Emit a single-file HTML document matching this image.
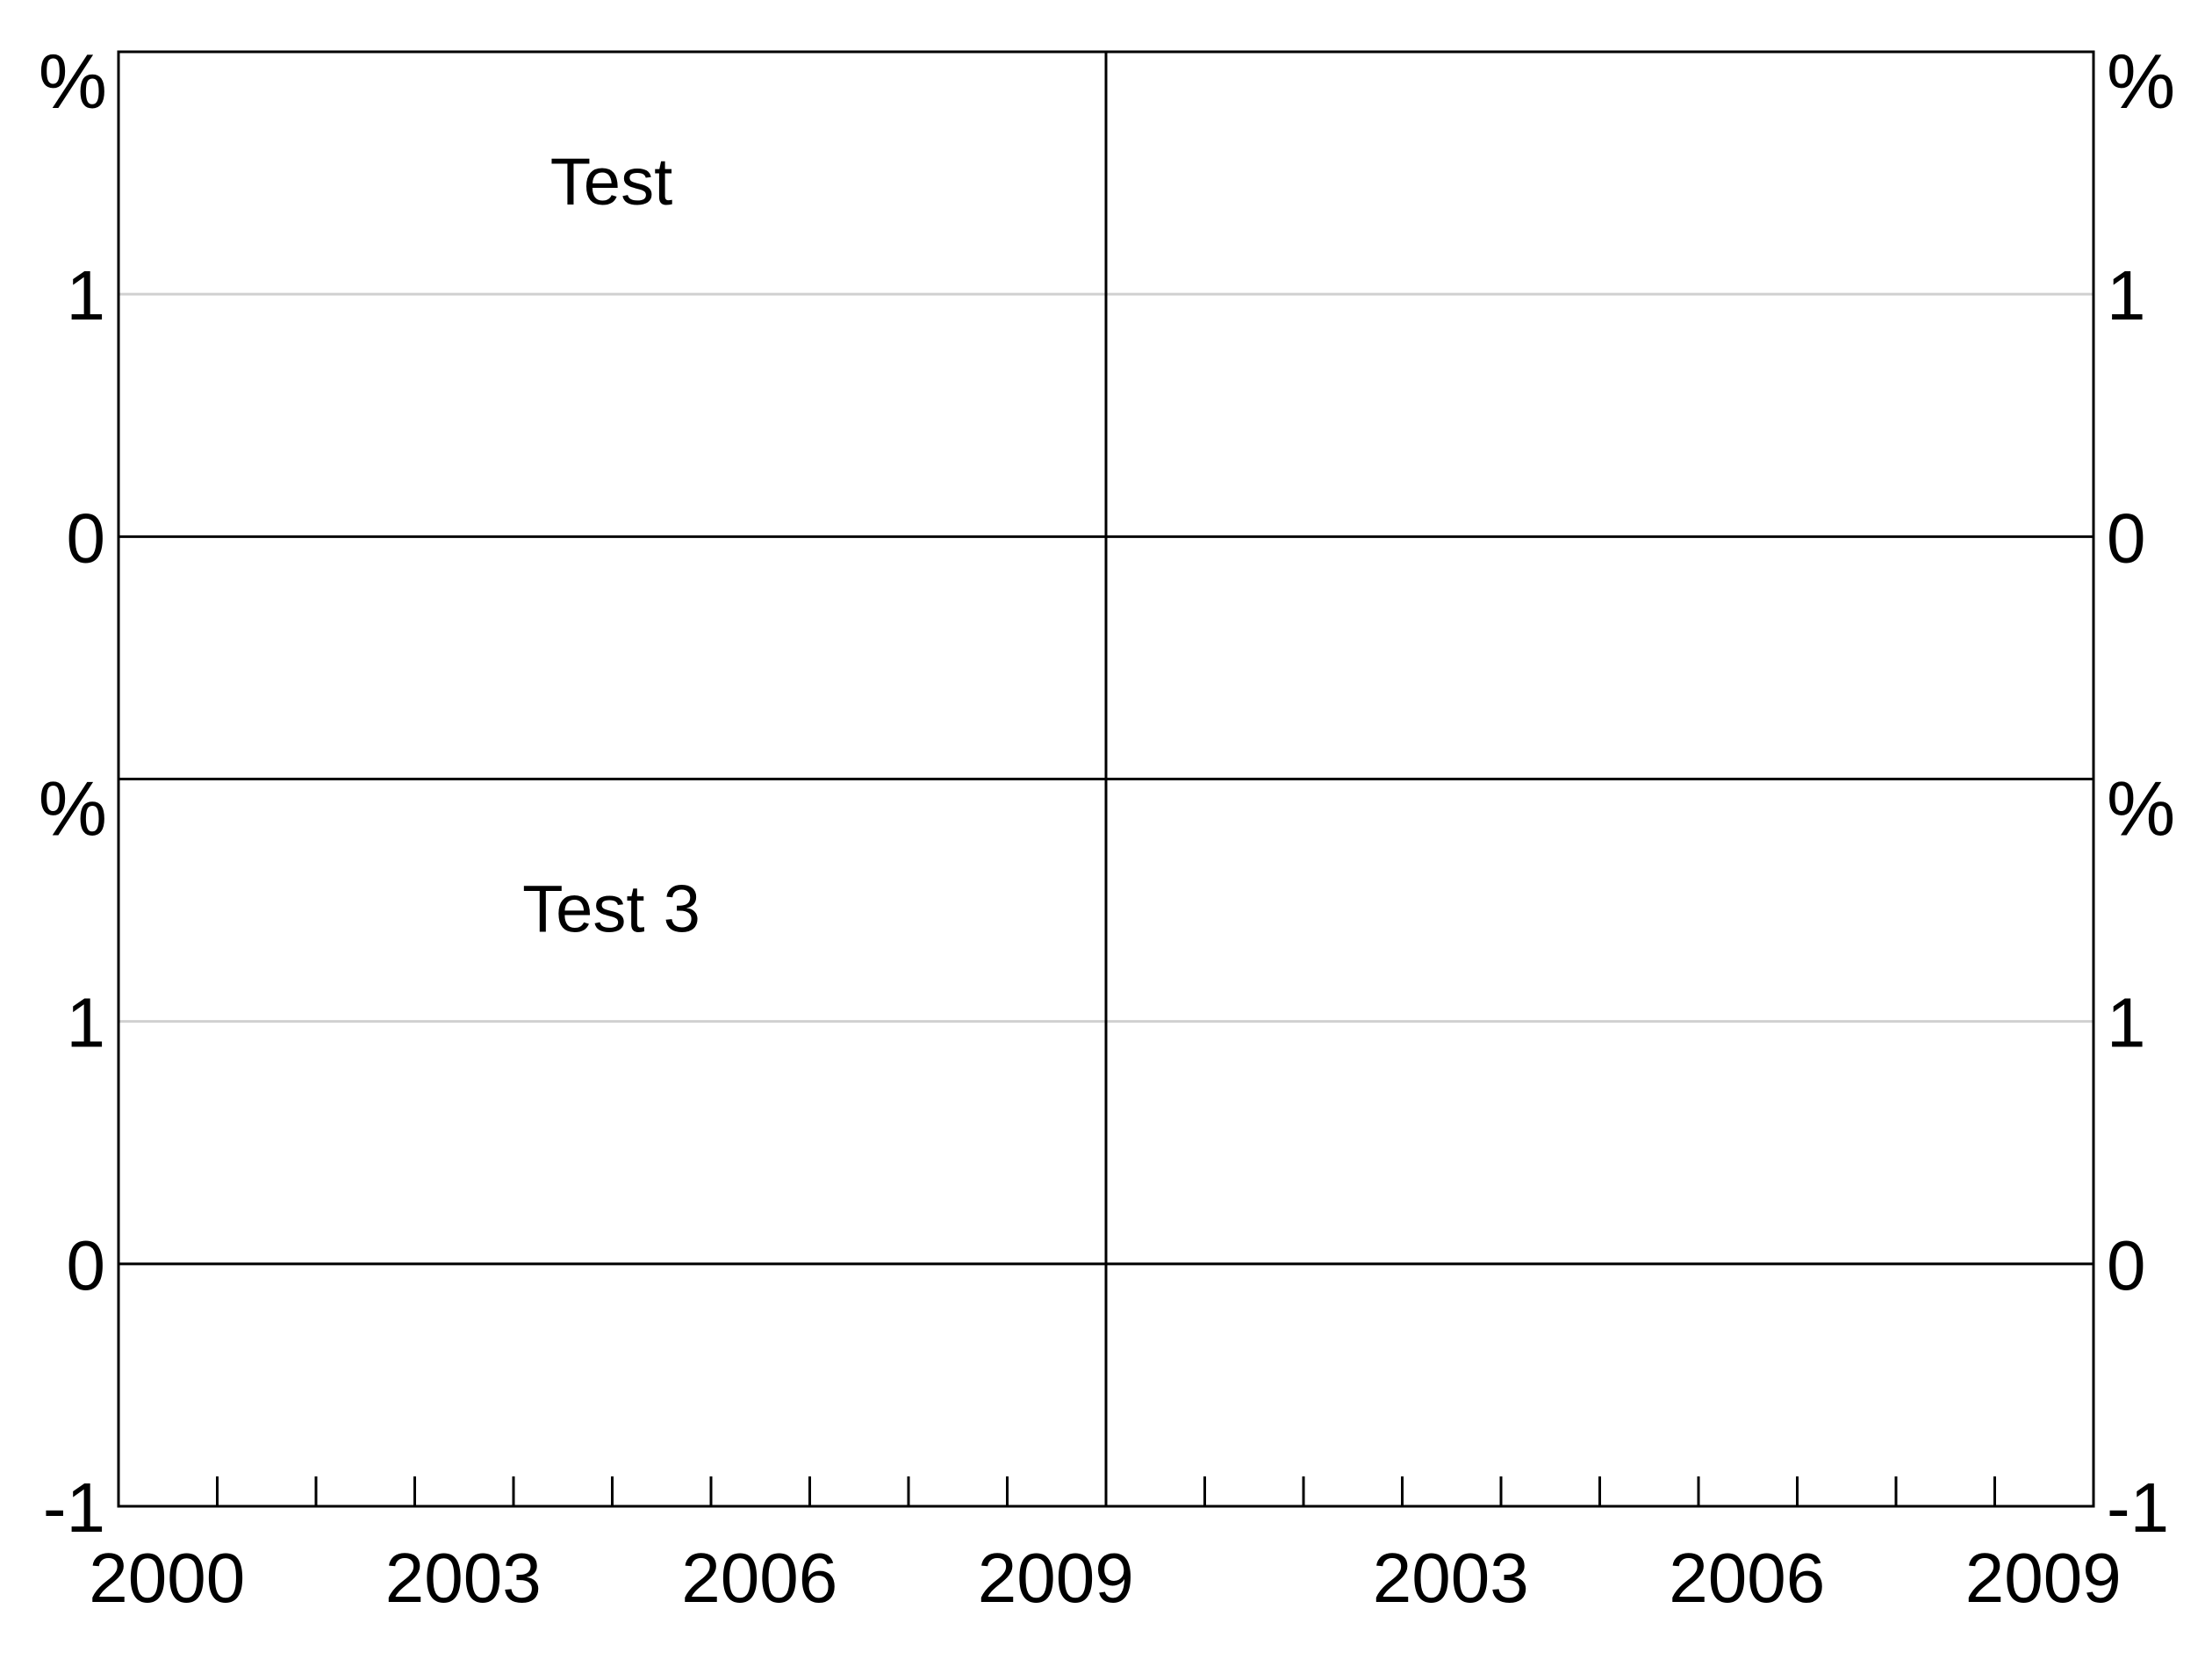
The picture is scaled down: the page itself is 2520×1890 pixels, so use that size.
<!DOCTYPE html>
<html><head><meta charset="utf-8"><style>
html,body{margin:0;padding:0;background:#fff}
svg{display:block}
text{font-family:"Liberation Sans",Arial,sans-serif;font-size:80px;fill:#000}
</style></head><body>
<svg id="chart" width="2520" height="1890" viewBox="0 0 2520 1890" xmlns="http://www.w3.org/2000/svg"></svg>
<script>
const yTicks = [-1, 0, 1];
const panelTitles = ["Test", "", "Test 3", ""];
const leftYears = ["2000", "2003", "2006", "2009"];
const rightYears = ["2003", "2006", "2009"];
const yearStart = 2000;
const yearEnd = 2010;

const svg = document.getElementById('chart');
const NS = 'http://www.w3.org/2000/svg';
const L = 135, R = 2385, T = 59, B = 1716, MX = 1260, MY = 887.5;
const rowTops = [T, MY];
const colLefts = [L, MX];
const unit = (MY - T) / 3;
function yScale(row, v) { return rowTops[row] + (2 - v) * unit; }
function xScale(col, yr) { return colLefts[col] + (yr - yearStart) / (yearEnd - yearStart) * (MX - L); }
function el(tag, attrs, txt) {
  const e = document.createElementNS(NS, tag);
  for (const k in attrs) e.setAttribute(k, attrs[k]);
  if (txt !== undefined) e.textContent = txt;
  svg.appendChild(e);
  return e;
}
for (let r = 0; r < 2; r++) {
  yTicks.forEach(v => {
    if (v === -1) return;
    const y = yScale(r, v);
    const g = el('line', {x1: L, x2: R, y1: y, y2: y, stroke: v === 0 ? '#000' : '#d0d0d0', 'stroke-width': 3});
    
    
  });
}
const fr = el('rect', {x: L, y: T, width: R - L, height: B - T, fill: 'none', stroke: '#000', 'stroke-width': 3});


const vl = el('line', {x1: MX, x2: MX, y1: T, y2: B, stroke: '#000', 'stroke-width': 3});


const hl = el('line', {x1: L, x2: R, y1: MY, y2: MY, stroke: '#000', 'stroke-width': 3});


for (let c = 0; c < 2; c++) {
  for (let yr = yearStart + 1; yr < yearEnd; yr++) {
    const x = xScale(c, yr);
    const t = el('line', {x1: x, x2: x, y1: B - 34, y2: B, stroke: '#000', 'stroke-width': 3});
    
    
  }
}
leftYears.forEach(s => {
  const t = el('text', {x: xScale(0, +s + 0.5) - 1, y: 1825, 'text-anchor': 'middle'}, s);
  
  
});
rightYears.forEach(s => {
  const t = el('text', {x: xScale(1, +s + 0.5) - 1, y: 1825, 'text-anchor': 'middle'}, s);
  
  
});
for (let r = 0; r < 2; r++) {
  yTicks.forEach(v => {
    if (r === 0 && v === -1) return;
    const y = yScale(r, v) + 29;
    const a = el('text', {x: 120, y: y, 'text-anchor': 'end'}, String(v));
    
    
    const b = el('text', {x: 2400, y: y, 'text-anchor': 'start'}, String(v));
    
    
  });
  const p1 = el('text', {x: 122, y: rowTops[r] + 64, 'text-anchor': 'end', style: 'font-size:88px'}, '%');
  
  
  const p2 = el('text', {x: 2400, y: rowTops[r] + 64, 'text-anchor': 'start', style: 'font-size:88px'}, '%');
  
  
}
panelTitles.forEach((s, i) => {
  if (!s) return;
  const r = Math.floor(i / 2), c = i % 2;
  const t = el('text', {x: colLefts[c] + (MX - L) / 2 - 1, y: rowTops[r] + 174, 'text-anchor': 'middle', style: 'font-size:76px'}, s);
  
  
});
</script>
</body></html>
